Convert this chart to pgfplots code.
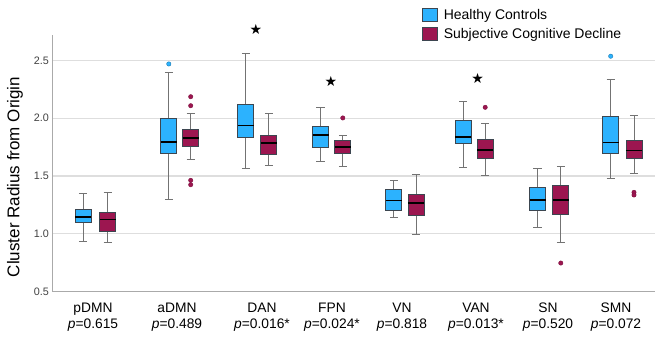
\documentclass[border=0pt]{standalone}
\usepackage{pgfplots}
\pgfplotsset{compat=1.18}
\usepgfplotslibrary{statistics}
\usepackage{fontspec}
\setmainfont{Liberation Sans}
\newfontfamily\symfont{DejaVu Sans}
\definecolor{hc}{RGB}{44,178,254}
\definecolor{scd}{RGB}{156,22,80}
\definecolor{edge}{RGB}{60,70,80}
\definecolor{wh}{RGB}{115,115,115}
\definecolor{gridc}{RGB}{222,222,222}
\definecolor{axc}{RGB}{170,170,170}
\pgfplotsset{
  hcbox/.style={boxplot/draw direction=y, boxplot/box extend=0.2177, boxplot/whisker extend=0.109,
    boxplot/every box/.style={fill=hc, draw=edge, line width=0.9pt},
    boxplot/every whisker/.style={draw=wh, line width=0.9pt},
    boxplot/every median/.style={draw=black, line width=1.6pt},
    mark=*, mark size=2.2pt, mark options={fill=hc, draw=hc!70!black, line width=0.4pt}, forget plot},
  scdbox/.style={boxplot/draw direction=y, boxplot/box extend=0.2177, boxplot/whisker extend=0.109,
    boxplot/every box/.style={fill=scd, draw=edge, line width=0.9pt},
    boxplot/every whisker/.style={draw=wh, line width=0.9pt},
    boxplot/every median/.style={draw=black, line width=1.6pt},
    mark=*, mark size=2.2pt, mark options={fill=scd, draw=scd!80!black, line width=0.4pt}, forget plot},
}
\begin{document}
\begin{tikzpicture}
\useasboundingbox (0pt,0pt) rectangle (655pt,339pt);
\begin{axis}[
  at={(52.3pt,47.7pt)}, anchor=south west,
  scale only axis, width=602.7pt, height=256.3pt,
  xmin=0, xmax=8.2, ymin=0.5, ymax=2.722,
  clip=false,
  axis x line*=bottom, axis y line*=left,
  axis line style={draw=axc, line width=1pt},
  ytick={0.5,1,1.5,2,2.5},
  ymajorgrids, grid style={draw=gridc, line width=1.5pt},
  major tick length=0pt,
  xtick={0.5537,1.6966,2.8531,3.8054,4.7578,5.7646,6.7442,7.6694},
  xticklabels={{pDMN\\\textit{p}=0.615},{aDMN\\\textit{p}=0.489},{DAN\\\textit{p}=0.016*},{FPN\\\textit{p}=0.024*},{VN\\\textit{p}=0.818},{VAN\\\textit{p}=0.013*},{SN\\\textit{p}=0.520},{SMN\\\textit{p}=0.072}},
  xticklabel style={font=\fontsize{13.8}{16.5}\selectfont, align=center, yshift=-8pt},
  yticklabel style={font=\fontsize{10.8}{12}\selectfont, text=black!75},
  yticklabel={\pgfmathprintnumber[fixed,fixed zerofill,precision=1,assume math mode=true]{\tick}},
  ylabel={Cluster Radius from Origin},
  ylabel style={at={(axis description cs:-0.0619,0.446)}, anchor=center, font=\fontsize{17}{20}\selectfont},
  legend style={at={(axis description cs:0.613,1.109)}, anchor=north west, draw=none, fill=none,
    font=\fontsize{14}{16}\selectfont, row sep=3pt, inner sep=0pt, nodes={inner sep=2pt}},
  legend cell align=left,
  legend image code/.code={\draw[#1] (0pt,-6.7pt) rectangle (15pt,6.7pt); \path (19pt,0pt);},
]
\addlegendimage{fill=hc, draw=edge, line width=0.8pt}
\addlegendentry{Healthy Controls}
\addlegendimage{fill=scd, draw=edge, line width=0.8pt}
\addlegendentry{Subjective Cognitive Decline}

% pDMN
\addplot[hcbox, boxplot prepared={draw position=0.4177, lower whisker=0.934, lower quartile=1.095, median=1.142, upper quartile=1.211, upper whisker=1.346}] coordinates {};
\addplot[scdbox, boxplot prepared={draw position=0.7537, lower whisker=0.921, lower quartile=1.020, median=1.121, upper quartile=1.185, upper whisker=1.358}] coordinates {};
% aDMN
\addplot[hcbox, boxplot prepared={draw position=1.5850, lower whisker=1.300, lower quartile=1.693, median=1.795, upper quartile=1.997, upper whisker=2.393}] table[row sep=\\, y index=0] {2.471\\};
\addplot[scdbox, boxplot prepared={draw position=1.8830, lower whisker=1.641, lower quartile=1.760, median=1.829, upper quartile=1.899, upper whisker=2.043}] table[row sep=\\, y index=0] {2.187\\2.109\\1.462\\1.424\\};
% DAN
\addplot[hcbox, boxplot prepared={draw position=2.6327, lower whisker=1.566, lower quartile=1.832, median=1.936, upper quartile=2.124, upper whisker=2.566}] coordinates {};
\addplot[scdbox, boxplot prepared={draw position=2.9456, lower whisker=1.589, lower quartile=1.688, median=1.786, upper quartile=1.853, upper whisker=2.040}] coordinates {};
% FPN
\addplot[hcbox, boxplot prepared={draw position=3.6490, lower whisker=1.627, lower quartile=1.745, median=1.853, upper quartile=1.927, upper whisker=2.092}] coordinates {};
\addplot[scdbox, boxplot prepared={draw position=3.9524, lower whisker=1.581, lower quartile=1.697, median=1.751, upper quartile=1.812, upper whisker=1.855}] table[row sep=\\, y index=0] {2.003\\};
% VN
\addplot[hcbox, boxplot prepared={draw position=4.6463, lower whisker=1.142, lower quartile=1.202, median=1.286, upper quartile=1.381, upper whisker=1.462}] coordinates {};
\addplot[scdbox, boxplot prepared={draw position=4.9483, lower whisker=0.997, lower quartile=1.156, median=1.268, upper quartile=1.338, upper whisker=1.514}] coordinates {};
% VAN
\addplot[hcbox, boxplot prepared={draw position=5.5918, lower whisker=1.575, lower quartile=1.780, median=1.838, upper quartile=1.983, upper whisker=2.144}] coordinates {};
\addplot[scdbox, boxplot prepared={draw position=5.8898, lower whisker=1.502, lower quartile=1.656, median=1.725, upper quartile=1.815, upper whisker=1.957}] table[row sep=\\, y index=0] {2.095\\};
% SN
\addplot[hcbox, boxplot prepared={draw position=6.6014, lower whisker=1.055, lower quartile=1.205, median=1.294, upper quartile=1.404, upper whisker=1.563}] coordinates {};
\addplot[scdbox, boxplot prepared={draw position=6.9184, lower whisker=0.927, lower quartile=1.170, median=1.294, upper quartile=1.416, upper whisker=1.586}] table[row sep=\\, y index=0] {0.745\\};
% SMN
\addplot[hcbox, boxplot prepared={draw position=7.5973, lower whisker=1.482, lower quartile=1.693, median=1.789, upper quartile=2.014, upper whisker=2.335}] table[row sep=\\, y index=0] {2.538\\};
\addplot[scdbox, boxplot prepared={draw position=7.9143, lower whisker=1.520, lower quartile=1.656, median=1.719, upper quartile=1.812, upper whisker=2.023}] table[row sep=\\, y index=0] {1.358\\1.335\\};

% significance stars
\addplot[only marks, mark=*, mark size=0pt, forget plot,
  nodes near coords={\symfont\fontsize{14}{14}\selectfont ★},
  nodes near coords align={anchor=center}] coordinates {(2.7714,2.772) (3.7919,2.321) (5.7871,2.349)};
\end{axis}
\end{tikzpicture}
\end{document}
